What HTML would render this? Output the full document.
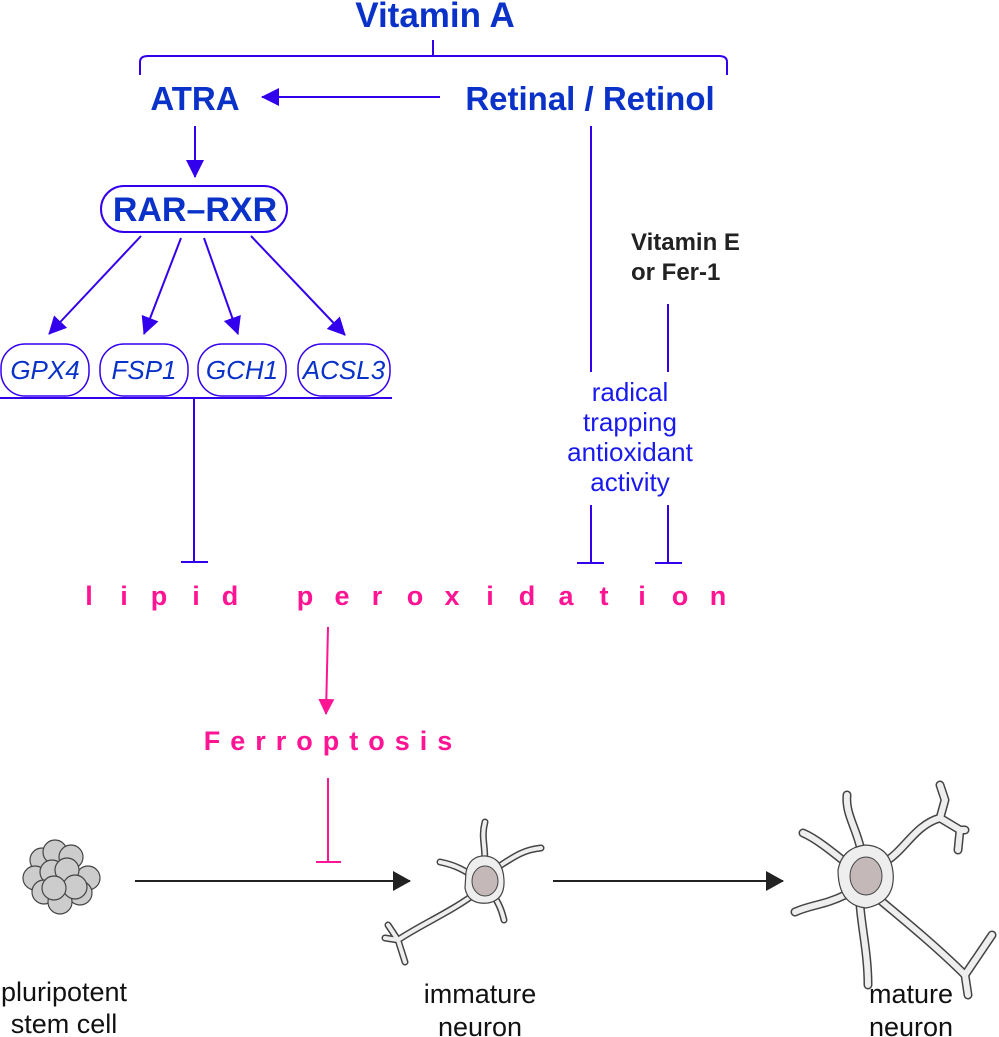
<!DOCTYPE html>
<html><head><meta charset="utf-8"><style>
html,body{margin:0;padding:0;background:#fff}
svg{display:block}
text{font-family:"Liberation Sans",Arial,sans-serif}
</style></head><body>
<svg width="999" height="1037" viewBox="0 0 999 1037" xmlns="http://www.w3.org/2000/svg">
<defs>
<marker id="abL" markerWidth="18" markerHeight="18" refX="17" refY="9" orient="auto" markerUnits="userSpaceOnUse" viewBox="0 0 18 18"><path d="M0,0 L18,9 L0,18 Z" fill="#3300ee"/></marker>
<marker id="am" markerWidth="16" markerHeight="16" refX="15" refY="8" orient="auto" markerUnits="userSpaceOnUse" viewBox="0 0 16 16"><path d="M0,0 L16,8 L0,16 Z" fill="#ff1493"/></marker>
<marker id="ak" markerWidth="18" markerHeight="20" refX="17" refY="10" orient="auto" markerUnits="userSpaceOnUse" viewBox="0 0 18 20"><path d="M0,0 L18,10 L0,20 Z" fill="#222"/></marker>
</defs>
<g font-weight="bold" fill="#0a32c8" text-anchor="middle">
<text x="435" y="27" font-size="35">Vitamin A</text>
<text x="195" y="110" font-size="33">ATRA</text>
<text x="590" y="110" font-size="33">Retinal / Retinol</text>
<text x="195" y="221" font-size="34">RAR–RXR</text>
</g>
<g stroke="#3300ee" stroke-width="2" fill="none">
<path d="M433,40 V56"/>
<path d="M140,75 V62 Q140,56 148,56 H719 Q727,56 727,62 V75"/>
<line x1="440" y1="97" x2="262" y2="97" marker-end="url(#abL)"/>
<line x1="195" y1="126" x2="195" y2="177" marker-end="url(#abL)"/>
<rect x="101" y="186" width="186" height="46" rx="23"/>
<line x1="141" y1="236" x2="49" y2="334" marker-end="url(#abL)"/>
<line x1="181" y1="238" x2="144" y2="334" marker-end="url(#abL)"/>
<line x1="204" y1="238" x2="238" y2="334" marker-end="url(#abL)"/>
<line x1="251" y1="236" x2="345" y2="335" marker-end="url(#abL)"/>
<rect x="1" y="344" width="88" height="52" rx="24" stroke-width="1.5"/>
<rect x="100" y="344" width="88" height="52" rx="24" stroke-width="1.5"/>
<rect x="198" y="344" width="88" height="52" rx="24" stroke-width="1.5"/>
<rect x="298" y="344" width="92" height="52" rx="24" stroke-width="1.5"/>
<line x1="0" y1="398" x2="392" y2="398"/>
<line x1="194" y1="398" x2="194" y2="562"/>
<line x1="181" y1="562" x2="208" y2="562"/>
<line x1="591" y1="126" x2="591" y2="372"/>
<line x1="668" y1="304" x2="668" y2="372"/>
<line x1="591" y1="505" x2="591" y2="563"/>
<line x1="577" y1="563" x2="604" y2="563"/>
<line x1="668" y1="505" x2="668" y2="563"/>
<line x1="655" y1="563" x2="682" y2="563"/>
</g>
<g font-style="italic" fill="#0a32c8" font-size="26" text-anchor="middle">
<text x="45" y="379">GPX4</text>
<text x="144" y="379">FSP1</text>
<text x="242" y="379">GCH1</text>
<text x="344" y="379">ACSL3</text>
</g>
<g font-weight="bold" fill="#222" font-size="24">
<text x="631" y="250">Vitamin E</text>
<text x="631" y="280">or Fer-1</text>
</g>
<g fill="#1a1aee" font-size="26" text-anchor="middle">
<text x="630" y="401">radical</text>
<text x="630" y="431">trapping</text>
<text x="630" y="461">antioxidant</text>
<text x="630" y="491">activity</text>
</g>
<g fill="#ff1493" font-weight="bold" font-size="27" text-anchor="middle">
<text x="89" y="605">l</text><text x="124" y="605">i</text><text x="159" y="605">p</text><text x="196" y="605">i</text><text x="230" y="605">d</text>
<text x="305" y="605">p</text><text x="342" y="605">e</text><text x="377" y="605">r</text><text x="415" y="605">o</text><text x="452" y="605">x</text><text x="490" y="605">i</text><text x="527" y="605">d</text><text x="566" y="605">a</text><text x="604" y="605">t</text><text x="642" y="605">i</text><text x="680" y="605">o</text><text x="718" y="605">n</text>
<text x="333" y="750" letter-spacing="10">Ferroptosis</text>
</g>
<g stroke="#ff1493" stroke-width="2" fill="none">
<line x1="328" y1="627" x2="326" y2="714" marker-end="url(#am)"/>
<line x1="328" y1="778" x2="328" y2="862"/>
<line x1="316" y1="862" x2="341" y2="862"/>
</g>
<g stroke="#222" stroke-width="2">
<line x1="135" y1="881" x2="410" y2="881" marker-end="url(#ak)"/>
<line x1="553" y1="881" x2="783" y2="881" marker-end="url(#ak)"/>
</g>
<g fill="#ccc" stroke="#444" stroke-width="1.2">
<circle cx="42" cy="860" r="12"/><circle cx="55" cy="852" r="12"/><circle cx="71" cy="857" r="12"/>
<circle cx="35" cy="878" r="12"/><circle cx="88" cy="878" r="12"/><circle cx="52" cy="872" r="12"/>
<circle cx="67" cy="870" r="12"/><circle cx="44" cy="892" r="12"/><circle cx="80" cy="893" r="12"/>
<circle cx="60" cy="902" r="12"/><circle cx="75" cy="887" r="12"/><circle cx="54" cy="888" r="12"/>
</g>
<g fill="none" stroke-linecap="round" stroke-linejoin="round">
<g stroke="#444" stroke-width="7">
<path d="M483,870 C488,850 480,840 485,822"/>
<path d="M490,872 C510,860 520,850 541,848"/>
<path d="M478,880 C465,870 455,865 440,862"/>
<path d="M480,890 C455,910 420,925 398,940 M398,940 L385,938 M398,940 L405,962 M398,940 L388,925"/>
<path d="M492,893 C500,905 502,912 504,920"/>
</g>
<g stroke="#eee" stroke-width="4">
<path d="M483,870 C488,850 480,840 485,822"/>
<path d="M490,872 C510,860 520,850 541,848"/>
<path d="M478,880 C465,870 455,865 440,862"/>
<path d="M480,890 C455,910 420,925 398,940 M398,940 L385,938 M398,940 L405,962 M398,940 L388,925"/>
<path d="M492,893 C500,905 502,912 504,920"/>
</g>
</g>
<path d="M466,872 Q470,855 486,856 Q503,858 504,880 Q505,900 488,903 Q468,905 465,888 Z" fill="#eee" stroke="#444" stroke-width="1.2"/>
<ellipse cx="485" cy="881" rx="13" ry="15" fill="#c4b8b8" stroke="#444" stroke-width="1"/>
<g fill="none" stroke-linecap="round" stroke-linejoin="round">
<g stroke="#444" stroke-width="9">
<path d="M862,855 C858,830 845,815 847,795"/>
<path d="M845,862 C830,850 815,838 803,833"/>
<path d="M885,862 C905,850 915,825 940,818 M940,818 L945,800 L940,785 M940,818 L960,830 M960,830 L958,850 M960,830 L965,830"/>
<path d="M845,895 C825,905 810,905 795,912"/>
<path d="M860,905 C862,930 868,955 868,985"/>
<path d="M880,900 C910,925 940,950 965,975 M965,975 L975,960 M965,975 L968,995 M965,975 L992,935"/>
</g>
<g stroke="#eee" stroke-width="6">
<path d="M862,855 C858,830 845,815 847,795"/>
<path d="M845,862 C830,850 815,838 803,833"/>
<path d="M885,862 C905,850 915,825 940,818 M940,818 L945,800 L940,785 M940,818 L960,830 M960,830 L958,850 M960,830 L965,830"/>
<path d="M845,895 C825,905 810,905 795,912"/>
<path d="M860,905 C862,930 868,955 868,985"/>
<path d="M880,900 C910,925 940,950 965,975 M965,975 L975,960 M965,975 L968,995 M965,975 L992,935"/>
</g>
</g>
<path d="M838,870 Q842,848 865,845 Q890,846 893,872 Q896,902 866,908 Q838,905 838,870 Z" fill="#eee" stroke="#444" stroke-width="1.2"/>
<ellipse cx="866" cy="876" rx="16" ry="19" fill="#c4b8b8" stroke="#444" stroke-width="1"/>
<g fill="#111" font-size="27" text-anchor="middle">
<text x="64" y="1001">pluripotent</text>
<text x="64" y="1033">stem cell</text>
<text x="480" y="1003">immature</text>
<text x="480" y="1036">neuron</text>
<text x="911" y="1003">mature</text>
<text x="911" y="1036">neuron</text>
</g>
</svg>
</body></html>
